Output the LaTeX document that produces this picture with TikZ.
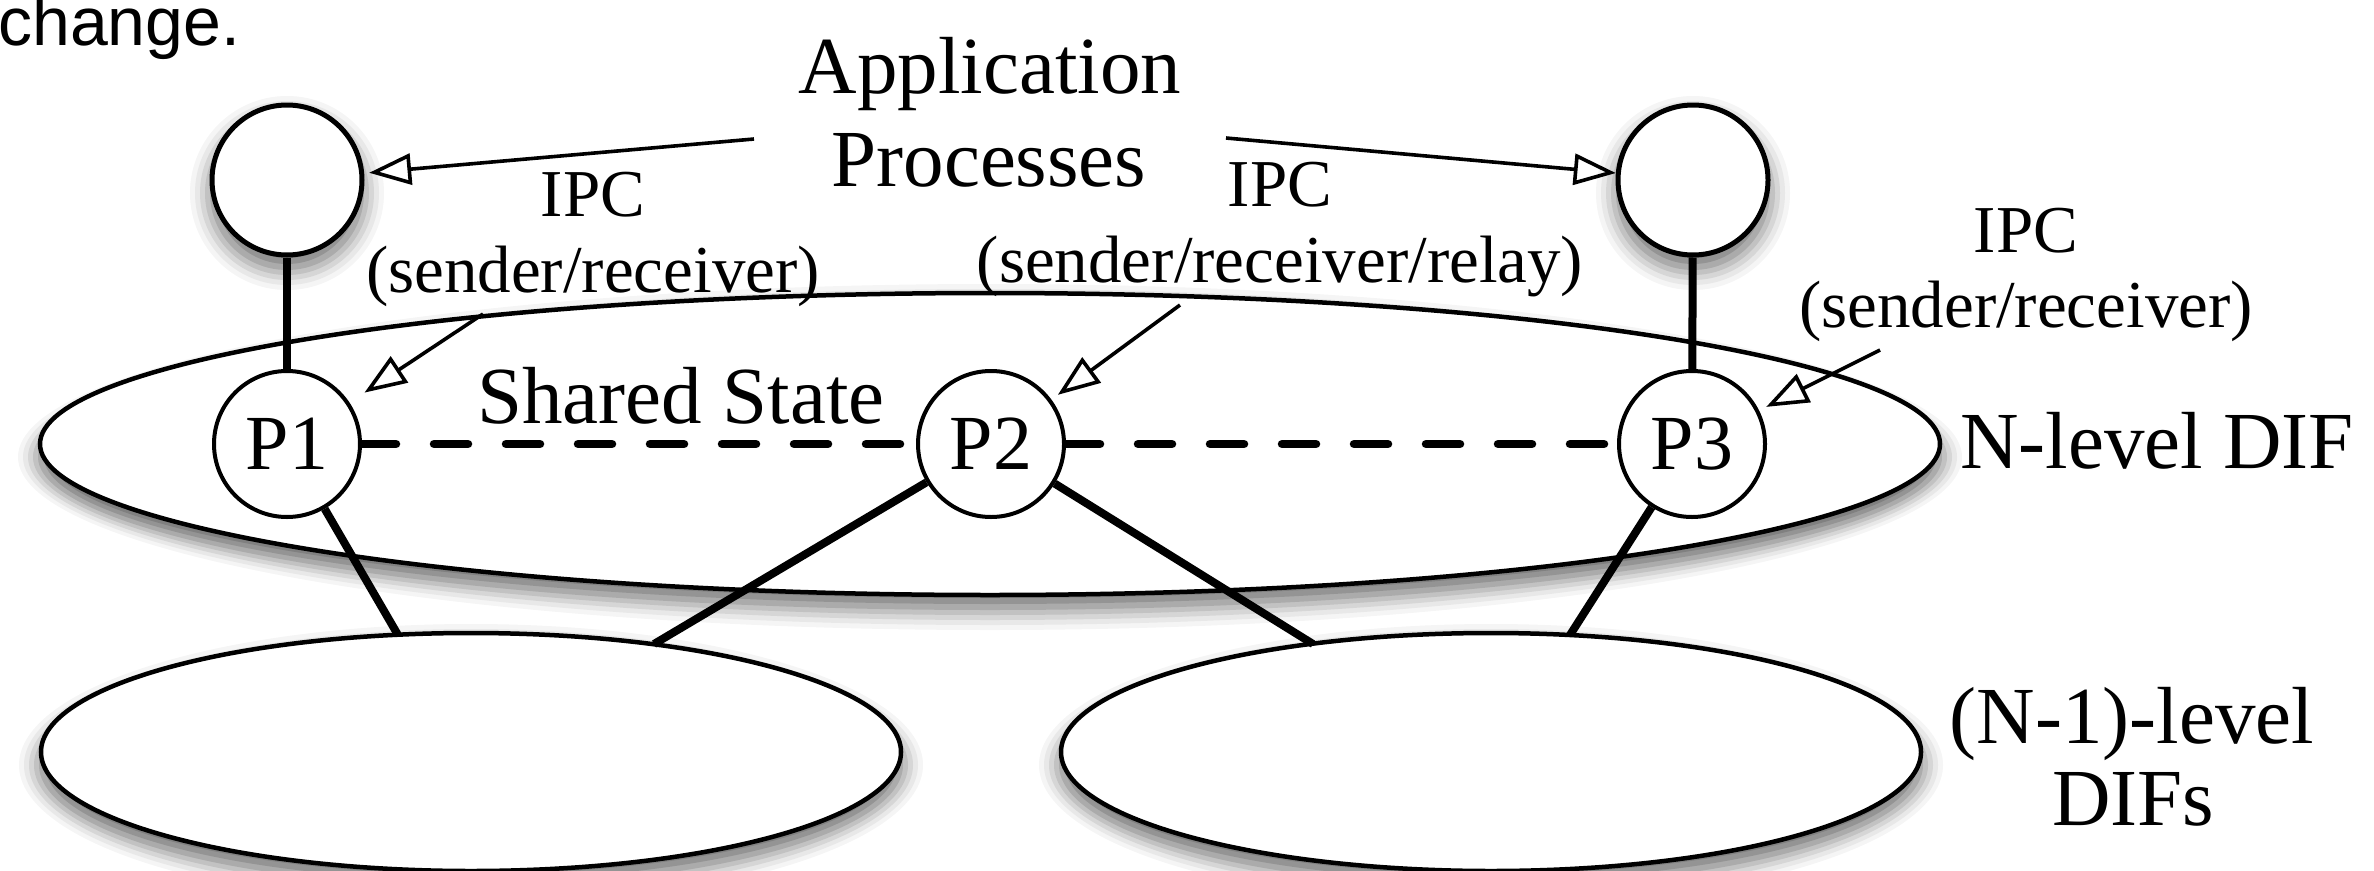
\documentclass[tikz,border=0pt]{standalone}
\usepackage{fontspec}
\setmainfont{Liberation Serif}
\newfontfamily\sansfam{Liberation Sans}
\usetikzlibrary{shapes.geometric,arrows.meta}
\pgfdeclarelayer{front}
\pgfsetlayers{main,front}
\definecolor{sh1}{gray}{0.96}
\definecolor{sh2}{gray}{0.91}
\definecolor{sh3}{gray}{0.84}
\definecolor{sh4}{gray}{0.76}
\definecolor{sh5}{gray}{0.67}
\definecolor{sh6}{gray}{0.58}
\definecolor{sh7}{gray}{0.50}
% soft drop shadow drawn with opaque grey rings: centre x, centre y, x radius, y radius
\newcommand\mydropshadow[4]{%
  \foreach \d/\c in {22/sh1,17/sh2,12/sh3,7/sh4,2/sh5,-4/sh6,-10/sh7}{%
    \fill[\c] (#1,#2+13) ellipse [x radius=#3+\d, y radius=#4+\d];}}
\begin{document}
\begin{tikzpicture}[x=1pt,y=-1pt,
  dif/.style={ellipse,draw,line width=4.5pt,fill=white,inner sep=0pt},
  app/.style={circle,draw,line width=5pt,fill=white,inner sep=0pt,minimum size=150pt},
  ipcp/.style={circle,draw,line width=4pt,fill=white,inner sep=0pt,minimum size=146pt,font=\fontsize{78}{90}\selectfont},
  big/.style={inner sep=0pt,anchor=base,font=\fontsize{81}{97}\selectfont},
  small/.style={inner sep=0pt,anchor=base,font=\fontsize{67}{80}\selectfont},
  link/.style={line width=8pt},
  shared/.style={line width=8.5pt,line cap=round,dash pattern=on 34pt off 38pt},
  ptr/.style={line width=3.6pt,-{Triangle[open,length=42pt,width=31pt]}}
]
\useasboundingbox (0,0) rectangle (2374,870);

% coordinates for free ends
\coordinate (s1) at (754,139);
\coordinate (s2) at (1226,138);
\coordinate (s3) at (483,314);
\coordinate (s4) at (1180,305);
\coordinate (s5) at (1880,350);
\coordinate (e1) at (398,635);
\coordinate (e2) at (654,644);
\coordinate (e3) at (1313,644);
\coordinate (e4) at (1570,635);

% DIF ellipses (main layer, drawn first) with soft shadows
\mydropshadow{990}{444}{950}{151}
\node[dif,minimum width=1900pt,minimum height=302pt] (N) at (990,444) {};
\mydropshadow{471}{752}{430}{119}
\node[dif,minimum width=860pt,minimum height=238pt] (L1) at (471,752) {};
\mydropshadow{1491}{752}{430}{119}
\node[dif,minimum width=860pt,minimum height=238pt] (L2) at (1491,752) {};
% shadows of the application processes, below the connectors
\mydropshadow{287}{180}{75}{75}
\mydropshadow{1693}{180}{75}{75}

% processes on the front layer
\begin{pgfonlayer}{front}
  \node[app] (A1) at (287,180) {};
  \node[app] (A2) at (1693,180) {};
  \node[ipcp] (P1) at (287,444) {P1};
  \node[ipcp] (P2) at (991,444) {P2};
  \node[ipcp] (P3) at (1692,444) {P3};
\end{pgfonlayer}

% connectors (main layer, above the ellipses, below the processes)
\draw[link] (A1) -- (P1);
\draw[link] (A2) -- (P3);
\draw[link] (P1) -- (e1);
\draw[link] (P2) -- (e2);
\draw[link] (P2) -- (e3);
\draw[link] (P3) -- (e4);
\draw[shared] (P1) -- (P2);
\draw[shared] (P2) -- (P3);

\begin{pgfonlayer}{front}
% texts
\node[anchor=base west,inner sep=0pt,font=\sansfam\fontsize{68}{80}\selectfont] (chg) at (-2,45) {change.};
\node[big] (tapp) at (990,93) {Application};
\node[big] (tproc) at (989,186) {Processes};
\node[big] (tshared) at (681,423) {Shared State};
\node[big,anchor=base west] (tn) at (1960,468) {N-level DIF};
\node[big] (tn1a) at (2132,743) {(N-1)-level};
\node[big] (tn1b) at (2133,825) {DIFs};
\node[small] (i1a) at (593,216) {IPC};
\node[small] (i1b) at (593,292) {(sender/receiver)};
\node[small] (i2a) at (1280,206) {IPC};
\node[small] (i2b) at (1280,282) {(sender/receiver/relay)};
\node[small] (i3a) at (2026,252) {IPC};
\node[small] (i3b) at (2026,327) {(sender/receiver)};

% arrows
\draw[ptr,shorten >=5pt] (s1) -- (A1);
\draw[ptr] (s2) -- (A2);
\draw[ptr,shorten >=18pt] (s3) -- (P1);
\draw[ptr,shorten >=8pt] (s4) -- (P2);
\draw[ptr,shorten >=8pt] (s5) -- (P3);
\end{pgfonlayer}
\end{tikzpicture}
\end{document}
